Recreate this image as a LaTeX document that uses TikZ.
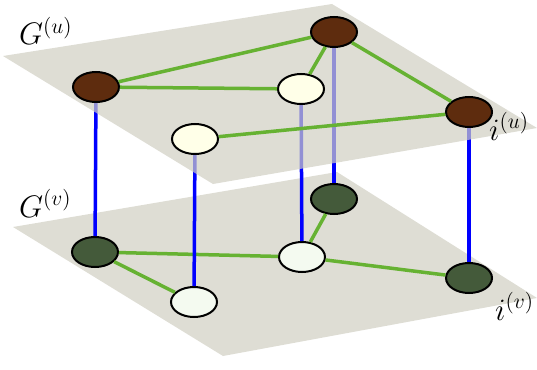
\documentclass[tikz,border=0pt]{standalone}
\usetikzlibrary{shapes.geometric}

\definecolor{planegray}{RGB}{222,221,212}
\definecolor{planedark}{RGB}{208,206,194}
\definecolor{edgegreen}{RGB}{102,178,50}
\definecolor{hubbrown}{RGB}{94,44,14}
\definecolor{leafcream}{RGB}{255,255,232}
\definecolor{leafwhite}{RGB}{244,250,240}
\definecolor{hubgreen}{RGB}{68,90,58}

\pgfdeclarelayer{lower}
\pgfdeclarelayer{mid}
\pgfsetlayers{lower,mid,main}

\newcommand{\layerlabel}[1]{\scalebox{1.5}{$#1$}}

\begin{document}
\begin{tikzpicture}[x=1pt, y=-1pt,
    vtx/.style={ellipse, draw=black, line width=2pt, minimum width=46pt, minimum height=30pt, inner sep=0pt},
    link/.style={edgegreen, line width=3.5pt},
    inter/.style={blue, line width=3.5pt},
    lbl/.style={anchor=base west, inner sep=0pt, font=\huge}]

\useasboundingbox (0,0) rectangle (537,369);

% Lower layer G^(v)
\begin{pgfonlayer}{lower}
\fill[planegray] (13,227) -- (337,172) -- (537,298) -- (223,356) -- cycle;
\node[vtx, fill=hubgreen] (f) at (95,252) {};
\node[vtx, fill=leafwhite] (g) at (194,302) {};
\node[vtx, fill=hubgreen] (h) at (334,199) {};
\node[vtx, fill=leafwhite] (i) at (302,257) {};
\node[vtx, fill=hubgreen] (j) at (469,278) {};
\draw[link] (f) -- (i);
\draw[link] (f) -- (g);
\draw[link] (i) -- (h);
\draw[link] (i) -- (j);
\end{pgfonlayer}

% Upper layer G^(u)
\fill[planedark, opacity=0.7] (3,56) -- (332,4) -- (537,128) -- (213,184) -- cycle;
\node[vtx, fill=hubbrown] (a) at (96,87) {};
\node[vtx, fill=leafcream] (b) at (195,139) {};
\node[vtx, fill=hubbrown] (c) at (334,32) {};
\node[vtx, fill=leafcream] (d) at (301,89) {};
\node[vtx, fill=hubbrown] (e) at (469,112) {};
\draw[link] (a) -- (c);
\draw[link] (a) -- (d);
\draw[link] (c) -- (d);
\draw[link] (c) -- (e);
\draw[link] (b) -- (e);

% Interlayer links
\begin{pgfonlayer}{mid}
\draw[inter] (a) -- (f);
\draw[inter] (b) -- (g);
\draw[inter] (d) -- (i);
\draw[inter] (c) -- (h);
\draw[inter] (e) -- (j);
\end{pgfonlayer}

% Labels
\node[lbl] (gu) at (19,45) {\layerlabel{G^{(u)}}};
\node[lbl] (gv) at (19,217) {\layerlabel{G^{(v)}}};
\node[lbl] (iu) at (489,140) {\layerlabel{i^{(u)}}};
\node[lbl] (iv) at (495,320) {\layerlabel{i^{(v)}}};

\end{tikzpicture}
\end{document}
